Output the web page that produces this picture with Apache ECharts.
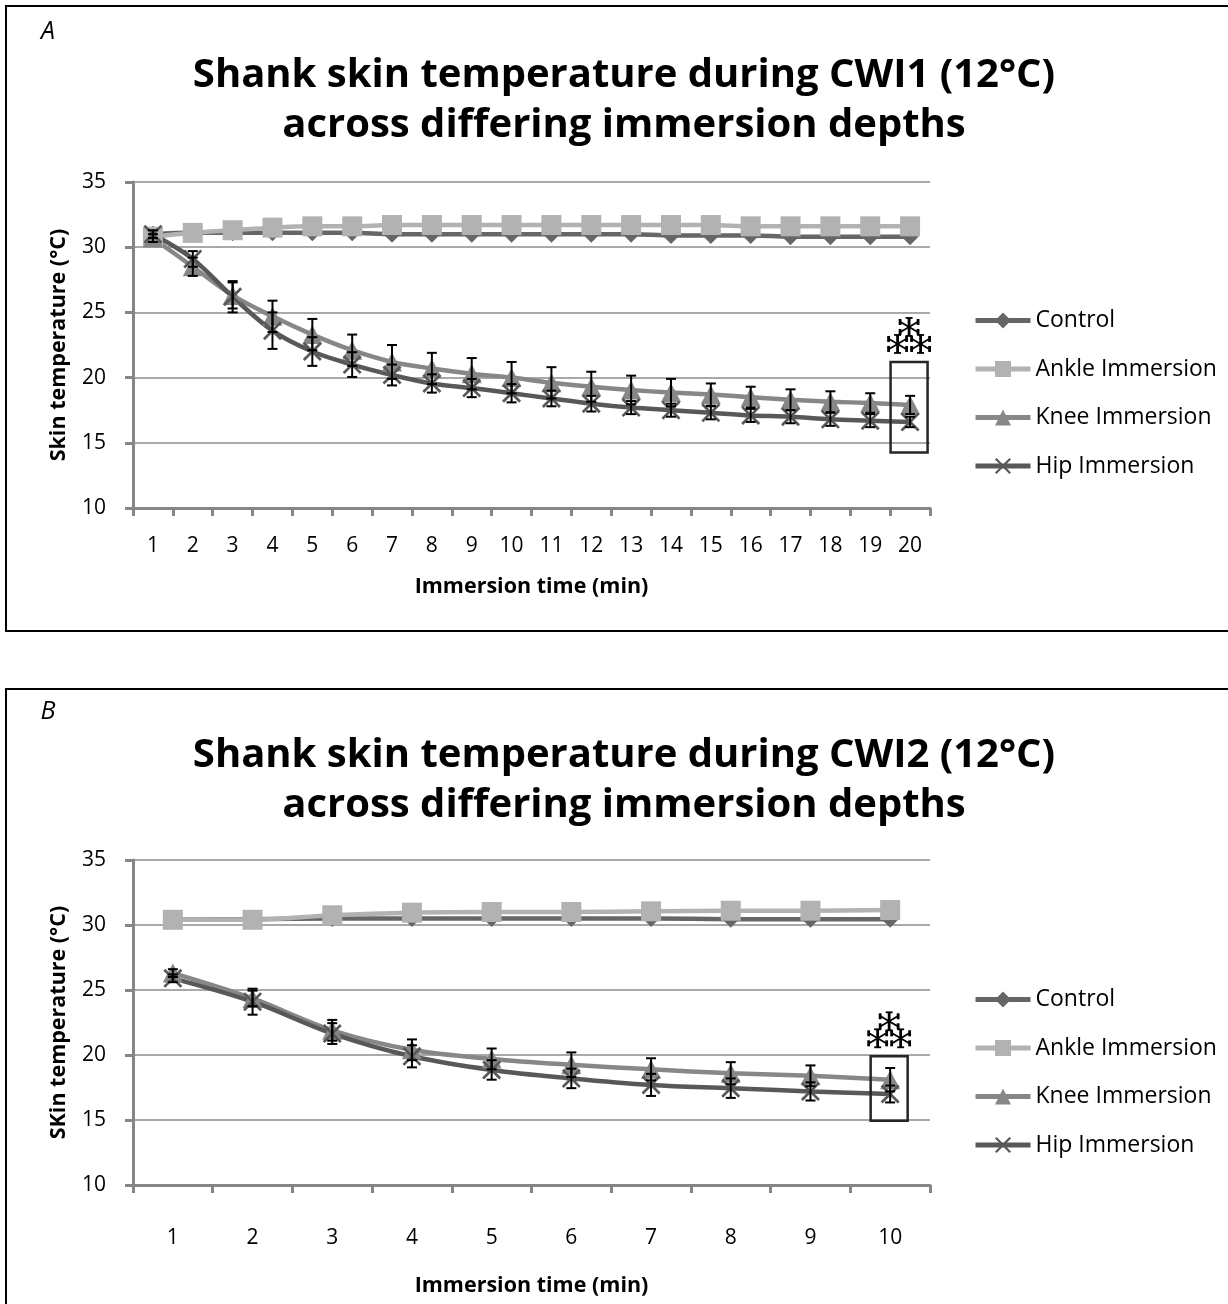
<!DOCTYPE html>
<html>
<head>
<meta charset="utf-8">
<script src="https://cdn.jsdelivr.net/npm/echarts@6/dist/echarts.min.js"></script>
<style>
  html, body { margin: 0; padding: 0; background: #fff; }
  #chart { width: 1228px; height: 1304px; }
</style>
</head>
<body>
<div id="chart"></div>
<script>
// panel A: CWI1, 20 min
var minutesA = ['1','2','3','4','5','6','7','8','9','10','11','12','13','14','15','16','17','18','19','20'];
var controlA = [31.0, 31.1, 31.1, 31.1, 31.1, 31.1, 31.0, 31.0, 31.0, 31.0, 31.0, 31.0, 31.0, 30.9, 30.9, 30.9, 30.8, 30.8, 30.8, 30.8];
var ankleA   = [30.8, 31.1, 31.3, 31.5, 31.6, 31.6, 31.7, 31.7, 31.7, 31.7, 31.7, 31.7, 31.7, 31.7, 31.7, 31.6, 31.6, 31.6, 31.6, 31.6];
var kneeA    = [30.7, 28.5, 26.3, 24.7, 23.3, 22.1, 21.2, 20.7, 20.3, 20.0, 19.6, 19.3, 19.05, 18.85, 18.7, 18.5, 18.3, 18.15, 18.05, 17.9];
var hipA     = [31.0, 29.1, 26.2, 23.6, 22.0, 21.0, 20.2, 19.55, 19.2, 18.8, 18.4, 18.0, 17.7, 17.5, 17.3, 17.1, 17.0, 16.8, 16.7, 16.6];
var kneeErrA = [0.3, 0.7, 1.0, 1.2, 1.2, 1.2, 1.3, 1.2, 1.2, 1.2, 1.2, 1.15, 1.1, 1.05, 0.85, 0.8, 0.8, 0.8, 0.75, 0.7];
var hipErrA  = [0.3, 0.6, 1.2, 1.4, 1.1, 0.95, 0.8, 0.7, 0.7, 0.7, 0.6, 0.6, 0.5, 0.5, 0.5, 0.5, 0.5, 0.5, 0.5, 0.4];
var sigA     = [[19, 14.25, 21.2]]; // category index, box bottom, box top

// panel B: CWI2, 10 min
var minutesB = ['1','2','3','4','5','6','7','8','9','10'];
var controlB = [30.4, 30.45, 30.5, 30.5, 30.5, 30.5, 30.5, 30.45, 30.45, 30.45];
var ankleB   = [30.4, 30.4, 30.75, 30.95, 31.0, 31.0, 31.05, 31.1, 31.1, 31.15];
var kneeB    = [26.3, 24.35, 21.9, 20.4, 19.7, 19.25, 18.9, 18.6, 18.4, 18.1];
var hipB     = [25.9, 24.1, 21.65, 19.9, 18.85, 18.2, 17.7, 17.45, 17.2, 17.0];
var kneeErrB = [0.3, 0.6, 0.8, 0.8, 0.8, 0.95, 0.85, 0.85, 0.8, 0.9];
var hipErrB  = [0.3, 1.0, 0.8, 0.85, 0.75, 0.75, 0.85, 0.75, 0.7, 0.65];
var sigB     = [[9, 14.95, 19.9]];

var seriesNames = ['Control', 'Ankle Immersion', 'Knee Immersion', 'Hip Immersion'];
var yTicks = [10, 35, 5]; // min, max, step

var FONT = '"Open Sans"';
var AXIS_GREY = '#868686';
var colors = ['#666666', '#b2b2b2', '#878787', '#585858'];
var crossPath = 'path://M0,1L1,0L10,9L9,10Z M9,0L10,1L1,10L0,9Z';

function errData(mean, err) {
  return mean.map(function (v, i) { return [i, v - err[i], v + err[i]]; });
}

function renderErr(params, api) {
  var lo = api.coord([api.value(0), api.value(1)]);
  var hi = api.coord([api.value(0), api.value(2)]);
  var x = lo[0], w = 5;
  var st = { stroke: '#000', lineWidth: 2 };
  return {
    type: 'group',
    children: [
      { type: 'line', shape: { x1: x, y1: lo[1], x2: x, y2: hi[1] }, style: st },
      { type: 'line', shape: { x1: x - w, y1: lo[1], x2: x + w, y2: lo[1] }, style: st },
      { type: 'line', shape: { x1: x - w, y1: hi[1], x2: x + w, y2: hi[1] }, style: st }
    ]
  };
}

// one serif asterisk, roughly 19 x 19
function star(cx, cy) {
  var thick = { stroke: '#000', lineWidth: 2.8 };
  var thin = { stroke: '#000', lineWidth: 1.8 };
  var segs = [
    [cx, cy - 9, cx, cy + 9, thick],
    [cx - 3.5, cy - 9, cx + 3.5, cy - 9, thin],
    [cx - 3.5, cy + 9, cx + 3.5, cy + 9, thin],
    [cx - 8.5, cy - 5, cx + 8.5, cy + 5, thin],
    [cx - 8.5, cy + 5, cx + 8.5, cy - 5, thin],
    [cx - 9, cy - 8, cx - 9, cy - 2, thick],
    [cx - 9, cy + 2, cx - 9, cy + 8, thick],
    [cx + 9, cy - 8, cx + 9, cy - 2, thick],
    [cx + 9, cy + 2, cx + 9, cy + 8, thick]
  ];
  return segs.map(function (s) {
    return { type: 'line', shape: { x1: s[0], y1: s[1], x2: s[2], y2: s[3] }, style: s[4] };
  });
}

function renderSig(params, api) {
  var lo = api.coord([api.value(0), api.value(1)]);
  var hi = api.coord([api.value(0), api.value(2)]);
  var cx = lo[0] - 1, hw = 18.5;
  var kids = [{
    type: 'rect',
    shape: { x: cx - hw, y: hi[1], width: hw * 2, height: lo[1] - hi[1] },
    style: { fill: 'none', stroke: '#262626', lineWidth: 2.5 }
  }];
  kids = kids.concat(star(cx, hi[1] - 35), star(cx - 11.5, hi[1] - 18), star(cx + 11.5, hi[1] - 18));
  return { type: 'group', children: kids };
}

function lineSeries(name, data, idx, symbol, size, color) {
  return {
    name: name, type: 'line', data: data,
    xAxisIndex: idx, yAxisIndex: idx,
    smooth: 0.35,
    symbol: symbol, symbolSize: size,
    lineStyle: { color: color, width: 4.5 },
    itemStyle: { color: color },
    emphasis: { disabled: true }
  };
}

function panelSeries(idx, c, a, k, h, kErr, hErr, sig) {
  return [
    lineSeries('Control', c, idx, 'diamond', [17, 17], colors[0]),
    lineSeries('Ankle Immersion', a, idx, 'rect', 20, colors[1]),
    lineSeries('Knee Immersion', k, idx, 'triangle', [20, 19], colors[2]),
    lineSeries('Hip Immersion', h, idx, crossPath, 19, colors[3]),
    { type: 'custom', xAxisIndex: idx, yAxisIndex: idx, renderItem: renderErr,
      data: errData(k, kErr), encode: { x: 0, y: [1, 2] }, z: 5, silent: true },
    { type: 'custom', xAxisIndex: idx, yAxisIndex: idx, renderItem: renderErr,
      data: errData(h, hErr), encode: { x: 0, y: [1, 2] }, z: 5, silent: true },
    { type: 'custom', xAxisIndex: idx, yAxisIndex: idx, renderItem: renderSig,
      data: sig, encode: { x: 0, y: [1, 2] }, z: 6, silent: true }
  ];
}

function yAxis(idx, name) {
  return {
    type: 'value', gridIndex: idx,
    min: yTicks[0], max: yTicks[1], interval: yTicks[2],
    name: name, nameLocation: 'middle', nameGap: 63,
    nameTextStyle: { fontFamily: FONT, fontWeight: 'bold', fontSize: 21.5, color: '#000' },
    axisLine: { show: true, lineStyle: { color: AXIS_GREY, width: 3 } },
    axisTick: { show: true, length: 8, lineStyle: { color: AXIS_GREY, width: 3 } },
    axisLabel: { fontFamily: FONT, fontSize: 21, color: '#000', margin: 27 },
    splitLine: { lineStyle: { color: '#8c8c8c', width: 1.5 } }
  };
}

function xAxis(idx, cats, labelMargin, nameGap) {
  return {
    type: 'category', gridIndex: idx, data: cats, boundaryGap: true,
    name: 'Immersion time (min)', nameLocation: 'middle', nameGap: nameGap,
    nameTextStyle: { fontFamily: FONT, fontWeight: 'bold', fontSize: 21.5, color: '#000' },
    axisLine: { lineStyle: { color: AXIS_GREY, width: 3 } },
    axisTick: { show: true, length: 8, lineStyle: { color: AXIS_GREY, width: 3 } },
    axisLabel: { fontFamily: FONT, fontSize: 21, color: '#000', margin: labelMargin, interval: 0 },
    splitLine: { show: false }
  };
}

function legend(top) {
  return {
    orient: 'vertical', left: 968, top: top,
    data: seriesNames, itemWidth: 55, itemHeight: 20, itemGap: 25.5,
    selectedMode: false,
    lineStyle: { width: 5 },
    textStyle: { fontFamily: FONT, fontSize: 23, color: '#000' }
  };
}

function titleText(y, text) {
  return { type: 'text', x: 624, y: y,
    style: { text: text, font: 'bold 40px ' + FONT, fill: '#000', textAlign: 'center', textVerticalAlign: 'middle' } };
}

var option = {
  animation: false,
  backgroundColor: '#fff',
  grid: [
    { left: 133, top: 182, width: 797, height: 326 },
    { left: 133, top: 860, width: 797, height: 325 }
  ],
  xAxis: [xAxis(0, minutesA, 28, 68), xAxis(1, minutesB, 43, 90)],
  yAxis: [yAxis(0, 'Skin temperature (°C)'), yAxis(1, 'SKin temperature (°C)')],
  legend: [legend(304), legend(983)],
  graphic: [
    { type: 'rect', shape: { x: 6, y: 6, width: 1240, height: 625 }, style: { fill: 'none', stroke: '#000', lineWidth: 2 } },
    { type: 'rect', shape: { x: 6, y: 689, width: 1240, height: 700 }, style: { fill: 'none', stroke: '#000', lineWidth: 2 } },
    { type: 'text', x: 48, y: 32, style: { text: 'A', font: 'italic 25px ' + FONT, fill: '#000', textAlign: 'center', textVerticalAlign: 'middle' } },
    { type: 'text', x: 48, y: 712, style: { text: 'B', font: 'italic 25px ' + FONT, fill: '#000', textAlign: 'center', textVerticalAlign: 'middle' } },
    titleText(76, 'Shank skin temperature during CWI1 (12°C)'),
    titleText(126, 'across differing immersion depths'),
    titleText(756, 'Shank skin temperature during CWI2 (12°C)'),
    titleText(806, 'across differing immersion depths')
  ],
  series: panelSeries(0, controlA, ankleA, kneeA, hipA, kneeErrA, hipErrA, sigA)
    .concat(panelSeries(1, controlB, ankleB, kneeB, hipB, kneeErrB, hipErrB, sigB))
};

var myChart = echarts.init(document.getElementById('chart'));
myChart.setOption(option);
</script>
</body>
</html>
